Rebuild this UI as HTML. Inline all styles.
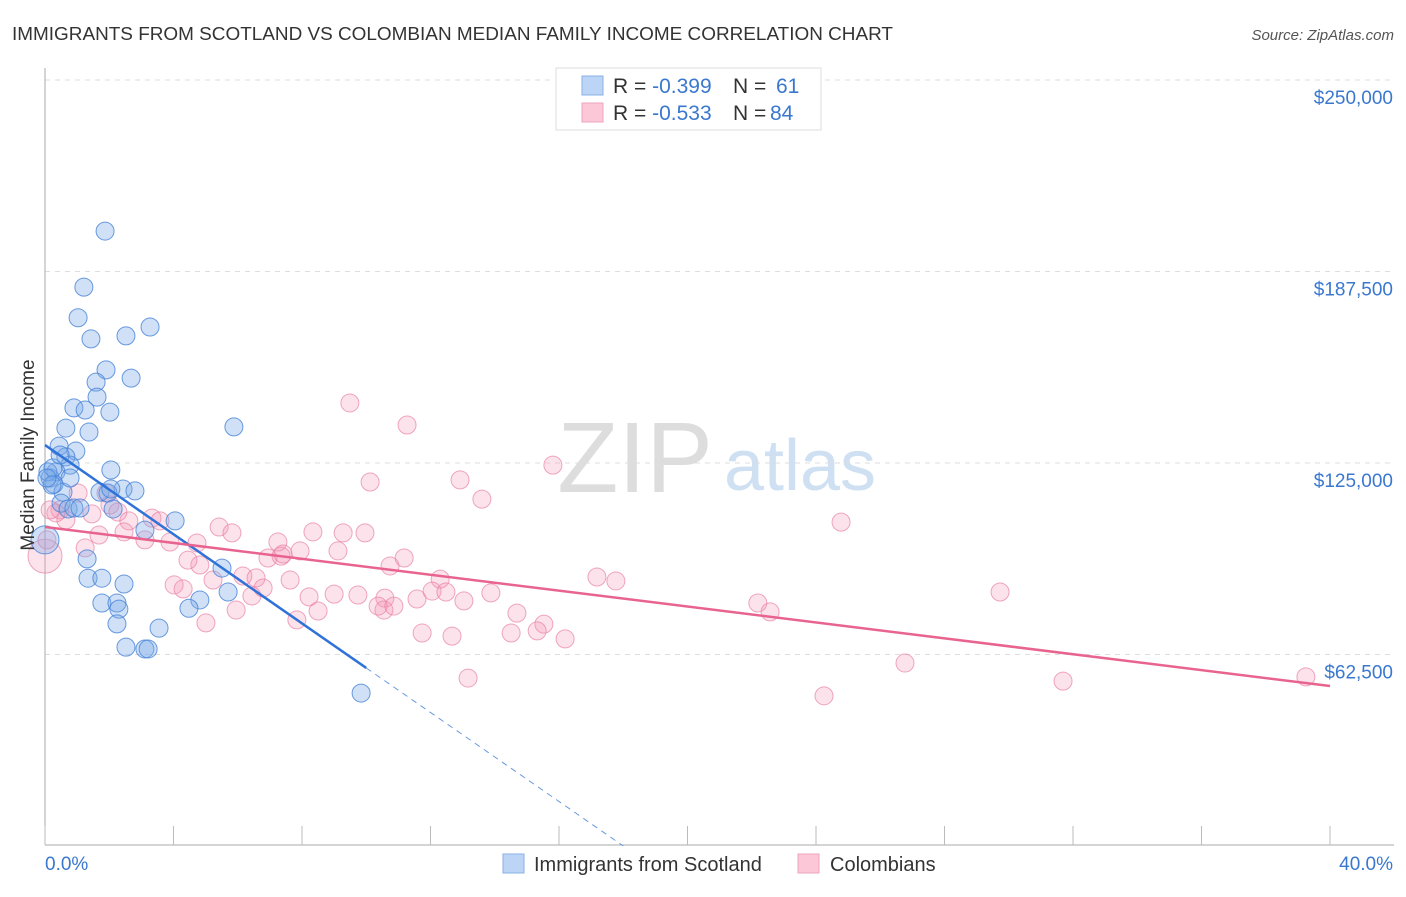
<!DOCTYPE html>
<html><head><meta charset="utf-8"><style>
body{margin:0;background:#fff;font-family:"Liberation Sans",sans-serif;}
svg text{font-family:"Liberation Sans",sans-serif;}
</style></head><body>
<svg width="1406" height="892" id="chart">
<text x="12" y="40" font-size="18" fill="#333" textLength="881" lengthAdjust="spacingAndGlyphs">IMMIGRANTS FROM SCOTLAND VS COLOMBIAN MEDIAN FAMILY INCOME CORRELATION CHART</text>
<text x="1394" y="40" font-size="15" fill="#555" font-style="italic" text-anchor="end">Source: ZipAtlas.com</text>
<text x="635" y="492" font-size="100" fill="#ddd" font-family="Liberation Serif" text-anchor="middle">ZIP</text>
<text x="800" y="490" font-size="72" fill="#cfe0f3" text-anchor="middle">atlas</text>
<g id="grid"></g><g id="axes"></g><g id="pts"></g><g id="trend"></g>
<text transform="translate(34,455) rotate(-90)" font-size="19" fill="#333" text-anchor="middle">Median Family Income</text>
<g>
<rect x="556" y="68" width="265" height="62" fill="#fff" stroke="#ddd"/>
<rect x="582" y="76" width="21" height="19" fill="#bcd4f5" stroke="#8ab0e6"/>
<rect x="582" y="103" width="21" height="19" fill="#fcc8d8" stroke="#eea4bc"/>
<text x="613" y="93" font-size="21" fill="#333">R = <tspan fill="#3a78d0">-0.399</tspan><tspan x="733">N = </tspan><tspan x="776" fill="#3a78d0">61</tspan></text>
<text x="613" y="120" font-size="21" fill="#333">R = <tspan fill="#3a78d0">-0.533</tspan><tspan x="733">N = </tspan><tspan x="770" fill="#3a78d0">84</tspan></text>
</g>
<g>
<rect x="503" y="854" width="21" height="19" fill="#bcd4f5" stroke="#8ab0e6"/>
<text x="534" y="871" font-size="20" fill="#333">Immigrants from Scotland</text>
<rect x="798" y="854" width="21" height="19" fill="#fcc8d8" stroke="#eea4bc"/>
<text x="830" y="871" font-size="20" fill="#333">Colombians</text>
</g>
</svg>
<script>
const yTicks=[62500,125000,187500,250000];
const yTickLabels=["$62,500","$125,000","$187,500","$250,000"];
const xTicks=[0,4,8,12,16,20,24,28,32,36,40];
const blueX=[1.87,1.21,1.03,1.43,2.52,3.27,1.90,1.59,2.68,1.62,0.90,1.25,2.02,5.88,0.65,1.37,0.44,0.96,0.65,0.78,0.34,2.05,0.16,0.28,0.56,1.71,2.43,2.80,1.96,0.50,0.72,0.90,1.09,2.12,4.05,3.11,1.31,5.51,1.34,1.77,2.46,1.77,2.24,2.30,4.82,4.48,5.70,2.24,3.55,2.52,3.11,3.21,9.84,0,0.09,0.25,0.22,0.06,0.47,0.78,2.05];
const blueY=[200700,182400,172400,165500,166500,169400,155400,151400,152700,146500,143000,142300,141600,136800,136400,135100,130500,128900,127000,124300,122100,122700,120100,118100,115500,115500,116500,115900,115200,111900,110000,110300,110300,110000,106100,103100,93700,90700,87400,87400,85500,79300,79300,77300,80300,77600,82900,72500,71100,64900,64300,64300,49900,99900,122100,123400,117800,120100,127600,120100,116500];
const pinkX=[9.49,11.27,15.81,10.12,12.92,13.60,24.78,1.03,1.90,0.47,2.02,1.46,2.27,0.65,0.34,1.25,1.68,2.61,2.46,3.11,3.33,3.58,3.89,4.73,5.42,5.82,4.82,4.45,5.23,4.02,4.30,5.95,5.01,6.16,6.57,6.79,6.44,6.94,7.35,7.25,7.63,7.41,7.94,8.34,9.12,9.28,9.96,8.22,8.50,7.84,9.00,9.74,10.58,10.55,10.37,11.18,10.74,10.86,11.58,12.30,12.05,12.48,13.04,11.74,12.67,13.88,14.69,14.51,15.53,15.32,16.19,13.17,17.18,17.77,22.19,22.57,29.73,26.77,24.25,31.69,39.25,0,0.16,0.06];
const pinkY=[144600,137400,124300,118800,119500,113200,105700,115200,115200,109700,111300,108400,109000,106400,108700,97300,101500,106100,102500,99900,107000,106100,99200,98900,104100,102200,91700,93300,86800,85200,83900,77000,72800,88100,87500,84200,81600,94000,94600,99200,86800,95300,96300,102500,96300,102200,102200,81300,76700,73800,82200,81900,80900,77000,78300,94000,91400,78300,80600,87100,83200,82900,80000,69500,68500,82600,76000,69500,72400,70200,67600,54800,87800,86500,79300,76400,82900,59700,49000,53800,55200,94600,109700,99900];
const blueTrend=[[0,130850],[10,58100],[18,0]];
const pinkTrend=[[0,104100],[40,52200]];
const X=v=>45+v*32.125, Y=v=>463-(v-125000)/326.4;
const NS="http://www.w3.org/2000/svg";
function mk(tag,at,parent){const e=document.createElementNS(NS,tag);for(const k in at)e.setAttribute(k,at[k]);document.getElementById(parent).appendChild(e);return e;}
yTicks.forEach((t,i)=>{
 const l=mk('line',{x1:45,x2:1394,y1:Y(t),y2:Y(t),stroke:'#ddd','stroke-dasharray':'5,5'},'grid');
 
 
 const tx=mk('text',{x:1393,y:Y(t)+24,'font-size':19,fill:'#3a78d0','text-anchor':'end'},'axes');
 tx.textContent=yTickLabels[i];
 
 
});
const ya=mk('line',{x1:45,x2:45,y1:68,y2:845,stroke:'#aaa'},'axes');


const xa=mk('line',{x1:45,x2:1394,y1:845,y2:845,stroke:'#aaa'},'axes');


xTicks.forEach(t=>{const l=mk('line',{x1:X(t),x2:X(t),y1:826,y2:845,stroke:'#bbb'},'axes');
 
 });
const x0=mk('text',{x:45,y:870,'font-size':19,fill:'#3a78d0'},'axes');x0.textContent='0.0%';


const x1=mk('text',{x:1393,y:870,'font-size':19,fill:'#3a78d0','text-anchor':'end'},'axes');x1.textContent='40.0%';


pinkX.forEach((v,i)=>{const big=(i===81);const c=mk('circle',{cx:X(v),cy:Y(pinkY[i]),r:big?17:9,fill:'rgba(244,150,182,0.28)',stroke:'rgba(232,130,165,0.7)','stroke-width':1},'pts');
 
 });
blueX.forEach((v,i)=>{const big=(i===53);const c=mk('circle',{cx:X(v),cy:Y(blueY[i]),r:big?14:9,fill:'rgba(120,170,232,0.35)',stroke:'rgba(70,130,215,0.8)','stroke-width':1},'pts');
 
 });
const b1=mk('line',{x1:X(blueTrend[0][0]),y1:Y(blueTrend[0][1]),x2:X(blueTrend[1][0]),y2:Y(blueTrend[1][1]),stroke:'#2f72d8','stroke-width':2.5},'trend');


const b2=mk('line',{x1:X(blueTrend[1][0]),y1:Y(blueTrend[1][1]),x2:X(blueTrend[2][0]),y2:Y(blueTrend[2][1]),stroke:'#6a9ae0','stroke-width':1,'stroke-dasharray':'6,5'},'trend');


const p1=mk('line',{x1:X(pinkTrend[0][0]),y1:Y(pinkTrend[0][1]),x2:X(pinkTrend[1][0]),y2:Y(pinkTrend[1][1]),stroke:'#e8648f','stroke-width':2.5},'trend');


</script>
</body></html>
